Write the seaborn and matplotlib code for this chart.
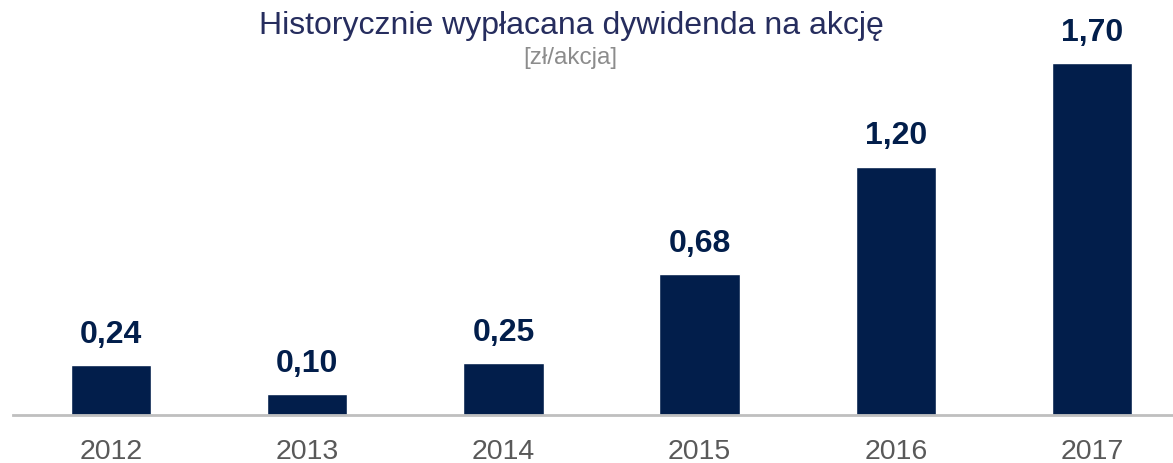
import matplotlib
matplotlib.use("Agg")
import matplotlib.pyplot as plt
import seaborn as sns
import pandas as pd

# ── Data ───────────────────────────────────────────
years  = ["2012", "2013", "2014", "2015", "2016", "2017"]
values = [0.24, 0.10, 0.25, 0.68, 1.20, 1.70]
labels = ["0,24", "0,10", "0,25", "0,68", "1,20", "1,70"]

BAR   = "#021E4B"
TITLE = "#262D5E"

sns.set_style("white")
plt.rcParams["font.family"] = ["Liberation Sans", "DejaVu Sans"]

df = pd.DataFrame({"year": years, "value": values})

fig = plt.figure(figsize=(11.73, 4.63), dpi=100)
ax = fig.add_axes([13 / 1173, 48 / 463, 1 - 13 / 1173, 405 / 463])

sns.barplot(data=df, x="year", y="value", color=BAR, width=0.41,
            saturation=1, ax=ax)

for i, (v, lab) in enumerate(zip(values, labels)):
    ax.annotate(lab, (i, v), xytext=(0, 11), textcoords="offset points",
                ha="center", va="bottom", fontsize=23, fontweight="bold",
                color=BAR)

ax.set_xlim(-0.5, 5.413)
ax.set_ylim(0, 1.956)
ax.set_xlabel("")
ax.set_ylabel("")
ax.set_yticks([])
for s in ["top", "left", "right"]:
    ax.spines[s].set_visible(False)
ax.spines["bottom"].set_color("#BFBFBF")
ax.spines["bottom"].set_linewidth(2)
# labels sit right at the bottom edge, keep them just inside
ax.tick_params(axis="x", length=0, pad=17, labelsize=20.5,
               labelcolor="#595959")

fig.text(0.487, 0.943, "Historycznie wypłacana dywidenda na akcję",
         ha="center", va="center", fontsize=23, color=TITLE)
fig.text(0.486, 0.874, "[zł/akcja]", ha="center", va="center",
         fontsize=17.5, color="#8C8C8C")

fig.savefig("out.png", dpi=100)
